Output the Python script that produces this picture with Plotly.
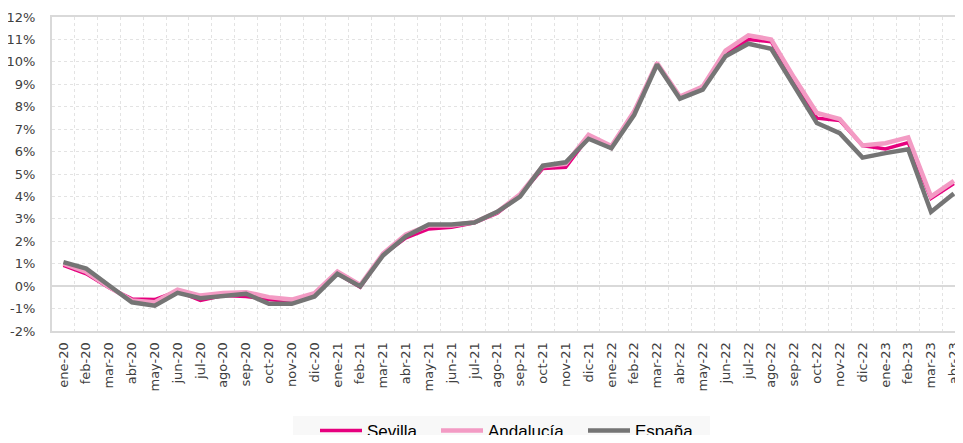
import plotly.graph_objects as go

months = ["ene-20","feb-20","mar-20","abr-20","may-20","jun-20","jul-20","ago-20","sep-20","oct-20","nov-20","dic-20",
          "ene-21","feb-21","mar-21","abr-21","may-21","jun-21","jul-21","ago-21","sep-21","oct-21","nov-21","dic-21",
          "ene-22","feb-22","mar-22","abr-22","may-22","jun-22","jul-22","ago-22","sep-22","oct-22","nov-22","dic-22",
          "ene-23","feb-23","mar-23","abr-23"]

sevilla = [0.93, 0.55, -0.07, -0.57, -0.60, -0.22, -0.64, -0.42, -0.46, -0.60, -0.69, -0.34,
           0.55, -0.05, 1.40, 2.15, 2.55, 2.62, 2.82, 3.25, 4.05, 5.25, 5.30, 6.65,
           6.15, 7.80, 9.88, 8.40, 8.85, 10.40, 11.00, 10.90, 9.20, 7.49, 7.39, 6.27,
           6.12, 6.40, 3.91, 4.58]

andalucia = [1.00, 0.63, -0.04, -0.64, -0.72, -0.16, -0.42, -0.31, -0.27, -0.49, -0.60, -0.31,
             0.65, 0.05, 1.45, 2.30, 2.70, 2.70, 2.85, 3.30, 4.10, 5.35, 5.45, 6.75,
             6.25, 7.80, 9.95, 8.45, 8.90, 10.50, 11.18, 11.00, 9.30, 7.72, 7.45, 6.27,
             6.37, 6.63, 3.99, 4.69]

espana = [1.07, 0.78, 0.03, -0.72, -0.87, -0.30, -0.54, -0.42, -0.34, -0.79, -0.79, -0.46,
          0.55, -0.01, 1.37, 2.22, 2.75, 2.75, 2.84, 3.31, 3.99, 5.37, 5.52, 6.57,
          6.15, 7.64, 9.88, 8.36, 8.76, 10.25, 10.81, 10.58, 8.94, 7.27, 6.82, 5.73,
          5.93, 6.10, 3.31, 4.13]

y_ticks = list(range(-2, 13))
y_labels = [f"{v}%" for v in y_ticks]

# page body has an 8px default margin on every side; keep the page inside the window
OFF = 8
W, H = 963 - OFF, 443 - 2 * OFF

fig = go.Figure()
fig.add_trace(go.Scatter(x=months, y=sevilla, name="Sevilla", mode="lines",
                         line=dict(color="#E6007E", width=3.5), legend="legend"))
fig.add_trace(go.Scatter(x=months, y=andalucia, name="Andalucía", mode="lines",
                         line=dict(color="#F39BC4", width=4.5), legend="legend2"))
fig.add_trace(go.Scatter(x=months, y=espana, name="España", mode="lines",
                         line=dict(color="#757575", width=4.5), legend="legend3"))

leg_common = dict(orientation="h", xref="container", yref="container", xanchor="left",
                  yanchor="middle", y=1 - (431 - OFF) / H, bgcolor="rgba(0,0,0,0)",
                  font=dict(size=17, color="#000000", family="Liberation Sans, sans-serif"),
                  itemwidth=42)

fig.update_layout(
    width=W, height=H,
    margin=dict(l=52 - OFF, r=0, t=17 - OFF, b=H - (17 - OFF) - 314, autoexpand=False),
    paper_bgcolor="white", plot_bgcolor="white",
    font=dict(family="DejaVu Sans, sans-serif", color="#404040"),
    showlegend=True,
    legend=dict(x=(315 - OFF) / W, **leg_common),
    legend2=dict(x=(436 - OFF) / W, **leg_common),
    legend3=dict(x=(583 - OFF) / W, **leg_common),
    shapes=[dict(type="rect", xref="paper", yref="paper",
                 x0=(293 - 52) / 911, x1=(710 - 52) / 911,
                 y0=(331 - 460) / 314, y1=(331 - 416) / 314,
                 fillcolor="#f8f8f8", line=dict(width=0), layer="below")],
)
fig.update_xaxes(
    type="category", range=[-0.5, 39.4], automargin=False,
    tickson="boundaries", ticks="", showgrid=True, gridcolor="#e3e3e3", griddash="dot",
    tickangle=-90, tickfont=dict(size=13, color="#404040"),
    showline=True, linecolor="#d9d9d9", linewidth=2, mirror=True,
    ticklabelstandoff=4,
)
fig.update_yaxes(
    range=[-2, 12], tickvals=y_ticks, ticktext=y_labels, automargin=False,
    showgrid=True, gridcolor="#e3e3e3", griddash="dot",
    zeroline=True, zerolinecolor="#d9d9d9", zerolinewidth=1.5,
    showline=True, linecolor="#d9d9d9", linewidth=2, mirror=True,
    tickfont=dict(size=13, color="#404040"), ticks="",
    ticklabelstandoff=12,
)

fig.write_html("out.html")
